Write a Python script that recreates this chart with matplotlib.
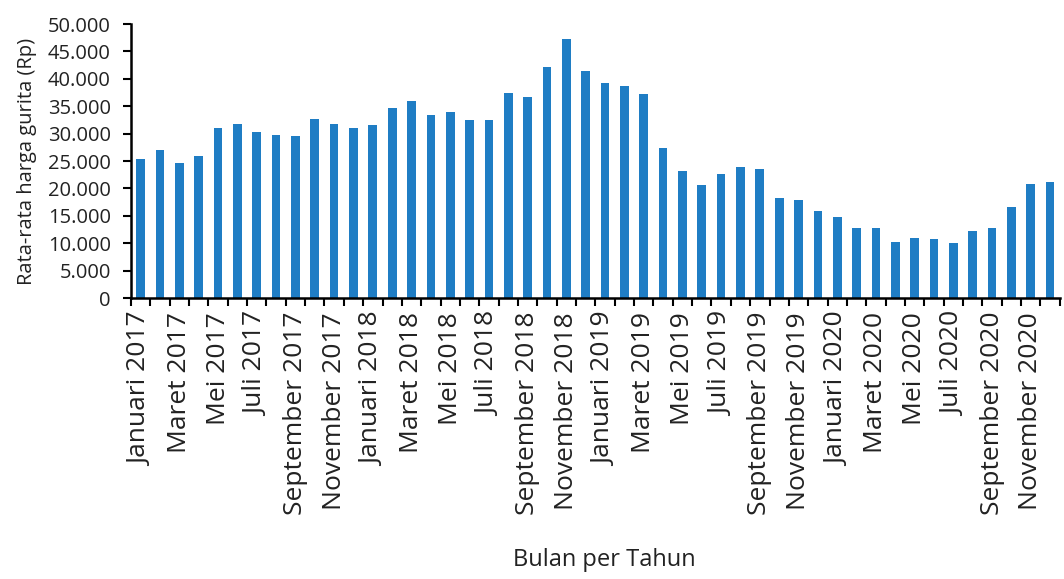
import matplotlib.pyplot as plt
from matplotlib.ticker import FuncFormatter, FixedLocator
import numpy as np

plt.rcParams['font.family'] = ['Open Sans', 'DejaVu Sans']

bulan = ["Januari", "Februari", "Maret", "April", "Mei", "Juni",
         "Juli", "Agustus", "September", "Oktober", "November", "Desember"]
tahun = [2017, 2018, 2019, 2020]

# rata-rata harga gurita per bulan (Rp)
harga_2017 = [25400, 27000, 24600, 26000, 31100, 31700, 30300, 29700, 29550, 32600, 31800, 31100]
harga_2018 = [31600, 34750, 35900, 33350, 34000, 32400, 32400, 37400, 36650, 42100, 47300, 41400]
harga_2019 = [39300, 38600, 37300, 27400, 23150, 20550, 22670, 23880, 23520, 18300, 17950, 15900]
harga_2020 = [14870, 12700, 12700, 10250, 11040, 10850, 10070, 12250, 12700, 16640, 20730, 21090]

harga = harga_2017 + harga_2018 + harga_2019 + harga_2020
label_bulan = [f"{b} {t}" for t in tahun for b in bulan]

fig = plt.figure(figsize=(10.64, 5.79), dpi=100)
ax = fig.add_axes([0.1231, 0.4853, 0.8729, 0.4732])

x = np.arange(len(harga))
ax.bar(x, harga, width=0.45, color='#1f7dc4')

ax.set_xlim(-0.5, len(harga) - 0.5)
ax.set_ylim(0, 50000)
ax.set_yticks(np.arange(0, 50001, 5000))
ax.yaxis.set_major_formatter(FuncFormatter(lambda v, p: f"{int(v):,}".replace(",", ".")))

# label tiap dua bulan, tick di batas kategori
ax.set_xticks(x[::2])
ax.set_xticklabels(label_bulan[::2], rotation=90)
ax.xaxis.set_minor_locator(FixedLocator(np.arange(-0.5, len(harga), 1)))
ax.tick_params(axis='x', which='major', length=0, pad=10, labelsize=19)
ax.tick_params(axis='x', which='minor', length=6, width=1.5, direction='out')
ax.tick_params(axis='y', length=6, width=1.5, pad=8.5, labelsize=14.5)
ax.tick_params(axis='both', labelcolor='#222222', color='black')

for s in ['top', 'right']:
    ax.spines[s].set_visible(False)
for s in ['left', 'bottom']:
    ax.spines[s].set_linewidth(1.8)

ax.set_ylabel("Rata-rata harga gurita (Rp)", fontsize=14.5, color='#222222')
ax.yaxis.set_label_coords(-0.101, 0.5)
fig.text(0.568, 0.012, "Bulan per Tahun", ha='center', va='bottom', fontsize=17, color='#222222')

fig.savefig("out.png", dpi=100)
